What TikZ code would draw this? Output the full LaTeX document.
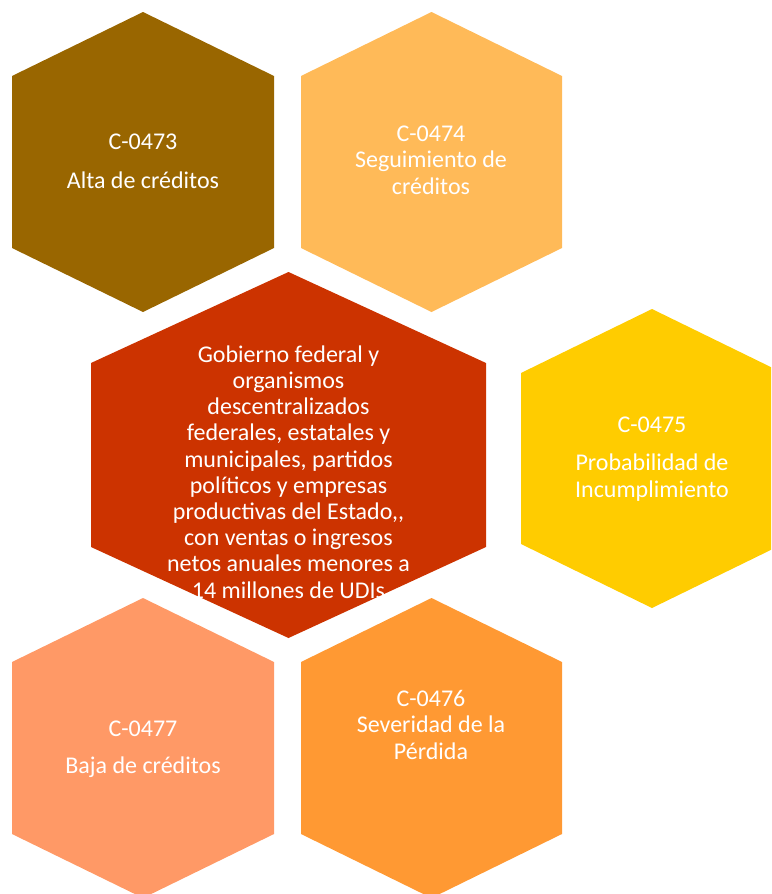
\documentclass[tikz,border=0pt]{standalone}
\usepackage{fontspec}
\setmainfont{Carlito}
\definecolor{cBrown}{HTML}{996600}
\definecolor{cSand}{HTML}{FFBA58}
\definecolor{cBrick}{HTML}{CC3300}
\definecolor{cGold}{HTML}{FFCC00}
\definecolor{cSalmon}{HTML}{FF9966}
\definecolor{cTangerine}{HTML}{FF9933}
% #1 colour, #2 centre x, #3 top y, #4 half width, #5 height, #6 shoulder drop
\newcommand\honeycell[6]{%
  \fill[#1] (#2,#3) -- ({#2+#4},{#3+#6}) -- ({#2+#4},{#3+#5-#6})
    -- (#2,{#3+#5}) -- ({#2-#4},{#3+#5-#6}) -- ({#2-#4},{#3+#6}) -- cycle;}
\begin{document}
\begin{tikzpicture}[x=1pt,y=-1pt,
  lbl/.style={text=white,align=center,inner sep=0pt,anchor=base,
    font=\fontsize{24}{26.2}\selectfont}]
\useasboundingbox (0,0) rectangle (771,894);
\clip (0,0) rectangle (771,894);
% hexagonal cells
\honeycell{cBrown}{143}{12}{131}{300}{64}
\honeycell{cSand}{431.5}{12}{130.5}{300}{64}
\honeycell{cBrick}{288.5}{272}{197.5}{366}{91}
\honeycell{cGold}{652}{309}{131}{299}{64}
\honeycell{cSalmon}{143}{598}{131}{300}{64}
\honeycell{cTangerine}{431.5}{598}{130.5}{300}{64}
% labels, placed by the baseline of their last line
\node[lbl] (alta) at (143,188) {C-0473\\[12pt]Alta de créditos};
\node[lbl] (seguimiento) at (431,194) {C-0474\\Seguimiento de\\créditos};
\node[lbl] (gobierno) at (288.5,598) {Gobierno federal y\\organismos\\descentralizados\\federales, estatales y\\municipales, partidos\\políticos y empresas\\productivas del Estado,{},\\con ventas o ingresos\\netos anuales menores a\\14 millones de UDIs};
\node[lbl] (probabilidad) at (652,497) {C-0475\\[12pt]Probabilidad de\\Incumplimiento};
\node[lbl] (baja) at (143,773) {C-0477\\[10pt]Baja de créditos};
\node[lbl] (severidad) at (431,759) {C-0476\\Severidad de la\\Pérdida};
\end{tikzpicture}
\end{document}
